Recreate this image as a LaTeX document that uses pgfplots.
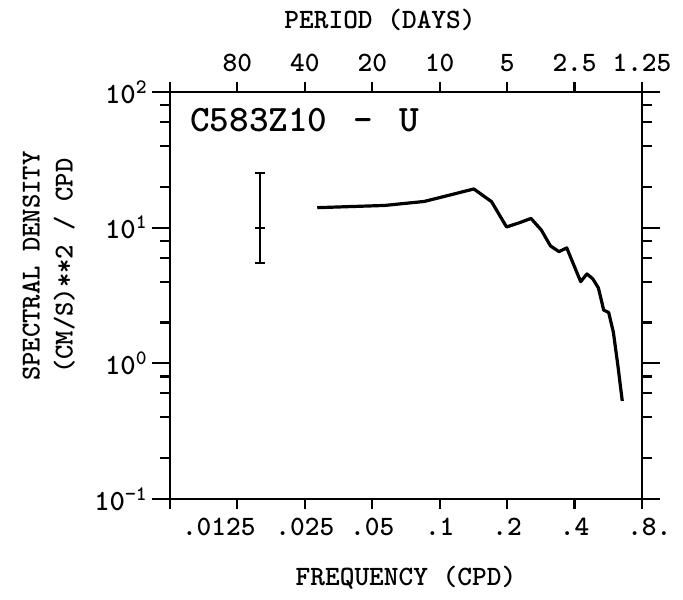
\documentclass[border=0pt]{standalone}
\usepackage{pgfplots}
\pgfplotsset{compat=1.18}
\begin{document}
\begin{tikzpicture}
% axis 1: data + bottom ticks
\begin{axis}[
  scale only axis, width=354pt, height=305.25pt,
  at={(0pt,0pt)}, anchor=south west,
  xmode=log, ymode=log,
  xmin=0.00625, xmax=0.8, ymin=0.1, ymax=100,
  axis line style={line width=2pt, black},
  tick style={line width=1.6pt, black},
  tick align=outside,
  xminorticks=false, yminorticks=false,
  xticklabel style={font=\ttfamily\bfseries\fontsize{21}{21}\selectfont, yshift=-3.5pt},
  xlabel style={font=\ttfamily\bfseries\fontsize{21}{24.75}\selectfont},
  xtick={0.00625,0.0125,0.025,0.05,0.1,0.2,0.4,0.8},
  xticklabels={{},{\hspace*{-28pt}.0125},{.025},{.05},{.1},{.2},{.4},{.8\rlap{.}}},
  xtick pos=lower, xticklabel pos=lower,
  ytick=\empty,
  major tick length=7.5pt,
  xlabel={FREQUENCY (CPD)},
  xlabel style={at={(rel axis cs:0.5,0)}, yshift=-59.25pt, anchor=center},
]
\addplot[black, line width=2.4pt, line join=round, mark=none] coordinates {
(0.0284,14.04) (0.0568,14.58) (0.0852,15.60) (0.1136,17.57) (0.1420,19.29)
(0.1704,15.55) (0.1988,10.12) (0.2272,10.88) (0.2556,11.69) (0.2840,9.62)
(0.3124,7.33) (0.3408,6.66) (0.3692,7.09) (0.3976,5.27) (0.4260,4.00)
(0.4544,4.56) (0.4828,4.19) (0.5112,3.59) (0.5396,2.47) (0.5680,2.37)
(0.5964,1.69) (0.6248,0.957) (0.6532,0.528)};
\addplot[black, line width=1.6pt, mark=none] coordinates {(0.0157,5.47) (0.0157,25.2)};
\addplot[black, only marks, mark=-, mark size=3.75pt, mark options={line width=1.6pt}]
  coordinates {(0.0157,5.47) (0.0157,10) (0.0157,25.2)};
\node[anchor=west, font=\ttfamily\bfseries\fontsize{28}{28}\selectfont, inner sep=0pt,
  xshift=15pt, yshift=-21pt]
  at (rel axis cs:0,1)
  {C583Z10\hspace{19.5pt}\textendash\hspace{20pt}U};
\end{axis}
% axis 2: top ticks (period)
\begin{axis}[
  scale only axis, width=354pt, height=305.25pt,
  at={(0pt,0pt)}, anchor=south west,
  xmode=log, ymode=log,
  xmin=0.00625, xmax=0.8, ymin=0.1, ymax=100,
  axis line style={line width=2pt, black},
  tick style={line width=1.6pt, black},
  tick align=outside,
  xminorticks=false, yminorticks=false,
  xticklabel style={font=\ttfamily\bfseries\fontsize{21}{21}\selectfont, yshift=4pt},
  xlabel style={font=\ttfamily\bfseries\fontsize{21}{24.75}\selectfont},
  xtick={0.00625,0.0125,0.025,0.05,0.1,0.2,0.4,0.8},
  xticklabels={{},80,40,20,10,5,2.5,1.25},
  xtick pos=upper, xticklabel pos=upper,
  ytick=\empty,
  major tick length=7.5pt,
  xlabel={PERIOD (DAYS)},
  xlabel style={at={(rel axis cs:0.445,1)}, yshift=54pt, anchor=center},
]
\end{axis}
% axis 3: y ticks
\begin{axis}[
  scale only axis, width=354pt, height=305.25pt,
  at={(0pt,0pt)}, anchor=south west,
  xmode=log, ymode=log,
  xmin=0.00625, xmax=0.8, ymin=0.1, ymax=100,
  axis line style={line width=2pt, black},
  tick style={line width=1.6pt, black},
  tick align=outside,
  xminorticks=false,
  yticklabel style={font=\ttfamily\bfseries\fontsize{22}{22}\selectfont},
  xtick=\empty,
  ytick={0.1,1,10,100},
  yticklabels={{10\textsuperscript{\textminus1}},{10\textsuperscript{0}},{10\textsuperscript{1}},{10\textsuperscript{2}}},
  minor ytick={0.2,0.4,0.6,0.8,2,4,6,8,20,40,60,80},
  ytick pos=both, yticklabel pos=lower,
  major tick length=13.5pt, minor tick length=7.5pt,
  ylabel={SPECTRAL DENSITY\\(CM/S)**2 / CPD},
  ylabel style={at={(rel axis cs:0,0.572)}, yshift=91pt, anchor=center, align=center, font=\ttfamily\bfseries\fontsize{20.5}{24.75}\selectfont},
]
\end{axis}
\pgfresetboundingbox
\useasboundingbox (-127.5pt,-75.75pt) rectangle (384.75pt,374.25pt);
\end{tikzpicture}
\end{document}
